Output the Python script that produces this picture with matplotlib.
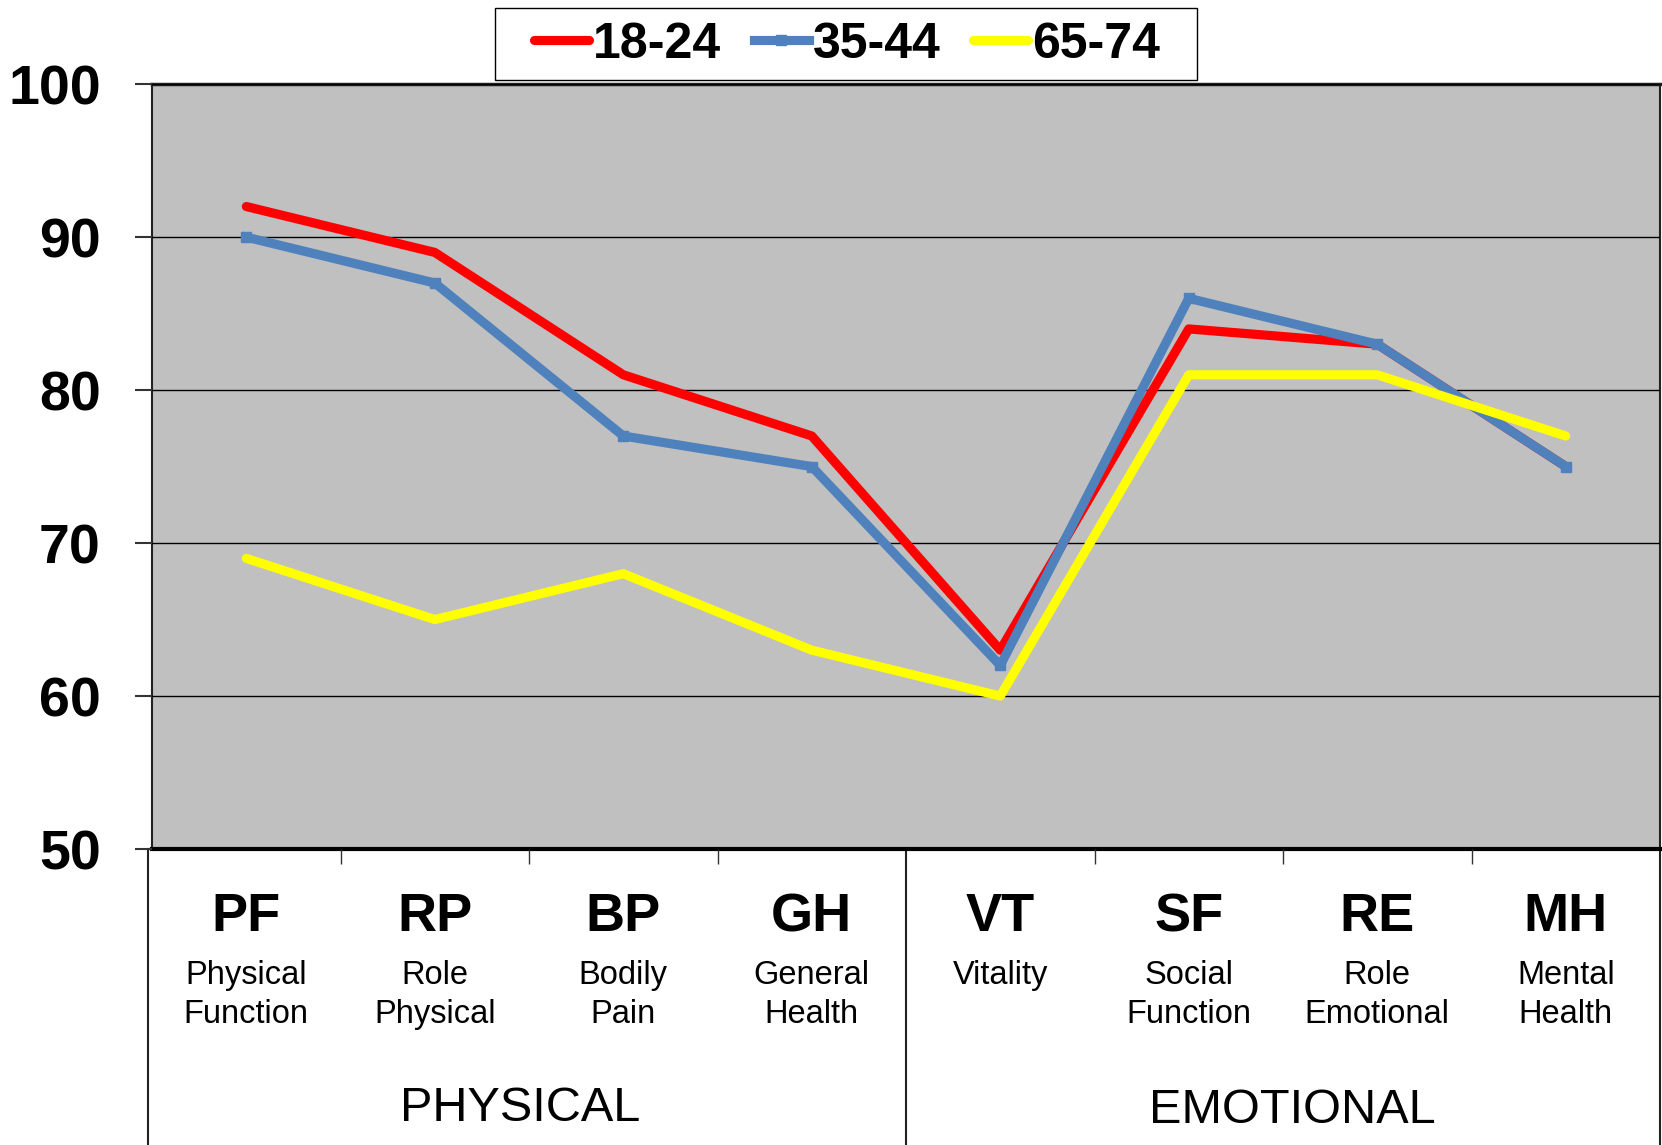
import matplotlib
matplotlib.use('Agg')
import matplotlib.pyplot as plt
import matplotlib.transforms as mtransforms
from matplotlib.patches import Rectangle

plt.rcParams['font.family'] = ['Liberation Sans', 'DejaVu Sans']

# SF-36 scales
abbrevs = ['PF', 'RP', 'BP', 'GH', 'VT', 'SF', 'RE', 'MH']
names = ['Physical\nFunction', 'Role\nPhysical', 'Bodily\nPain', 'General\nHealth',
         'Vitality', 'Social\nFunction', 'Role\nEmotional', 'Mental\nHealth']
groups = ['PHYSICAL', 'EMOTIONAL']

age_18_24 = [92, 89, 81, 77, 63, 84, 83, 75]
age_35_44 = [90, 87, 77, 75, 62, 86, 83, 75]
age_65_74 = [69, 65, 68, 63, 60, 81, 81, 77]

yticks = [50, 60, 70, 80, 90, 100]

fig = plt.figure(figsize=(16.62, 11.45), dpi=100)
ax = fig.add_axes([0.0915, 0.2585, 0.9073, 0.668])
ax.set_facecolor('#C0C0C0')

x = list(range(len(abbrevs)))
ax.plot(x, age_18_24, color='#FF0000', lw=6.6, label='18-24',
        solid_capstyle='round', solid_joinstyle='round', zorder=3)
ax.plot(x, age_35_44, color='#4F81BD', lw=6.6, label='35-44', marker='s', markersize=7.5,
        solid_joinstyle='round', zorder=4)
ax.plot(x, age_65_74, color='#FFFF00', lw=6.6, label='65-74',
        solid_capstyle='round', solid_joinstyle='round', zorder=5)

ax.set_xlim(-0.5, 7.5)
ax.set_ylim(50, 100)
ax.set_yticks(yticks)
ax.set_yticklabels([str(v) for v in yticks], fontsize=40, fontweight='bold')
ax.tick_params(axis='y', direction='out', length=12, width=1.5, pad=25, color='#333333')
ax.set_xticks([0.5, 1.5, 2.5, 4.5, 5.5, 6.5])
ax.set_xticklabels([])
ax.tick_params(axis='x', direction='out', length=11, width=1, color='#333333')

ax.grid(axis='y', color='black', lw=1)
ax.set_axisbelow(False)
for sp in ['left', 'right']:
    ax.spines[sp].set_color('#222222')
    ax.spines[sp].set_linewidth(1.5)
ax.spines['top'].set_color('#222222')
ax.spines['top'].set_linewidth(2.5)
ax.spines['bottom'].set_color('black')
ax.spines['bottom'].set_linewidth(3)

# category boxes under the axis
trans = mtransforms.blended_transform_factory(ax.transData, ax.transAxes)
for xv in [-0.52, 3.5, 7.5]:
    ax.plot([xv, xv], [0, -0.45], transform=trans, color='#222222', lw=1.5, clip_on=False)

for i, (ab, nm) in enumerate(zip(abbrevs, names)):
    ax.text(i, -0.089, ab, transform=trans, ha='center', va='center',
            fontsize=39, fontweight='bold')
    ax.text(i, -0.145, nm, transform=trans, ha='center', va='top',
            fontsize=23.5, linespacing=1.32)

ax.text(1.45, -0.339, groups[0], transform=trans, ha='center', va='center', fontsize=35)
ax.text(5.55, -0.342, groups[1], transform=trans, ha='center', va='center', fontsize=35)

leg = fig.legend(loc='center', bbox_to_anchor=(0.5095, 0.961), ncol=3, frameon=False,
                 handlelength=1.1, handletextpad=0.08, columnspacing=0.65,
                 prop={'size': 36, 'weight': 'bold'})
# legend frame
fig.patches.append(Rectangle((0.2978, 0.9303), 0.4224, 0.0626, transform=fig.transFigure,
                             fill=False, edgecolor='black', lw=1))

fig.savefig('out.png', dpi=100)
